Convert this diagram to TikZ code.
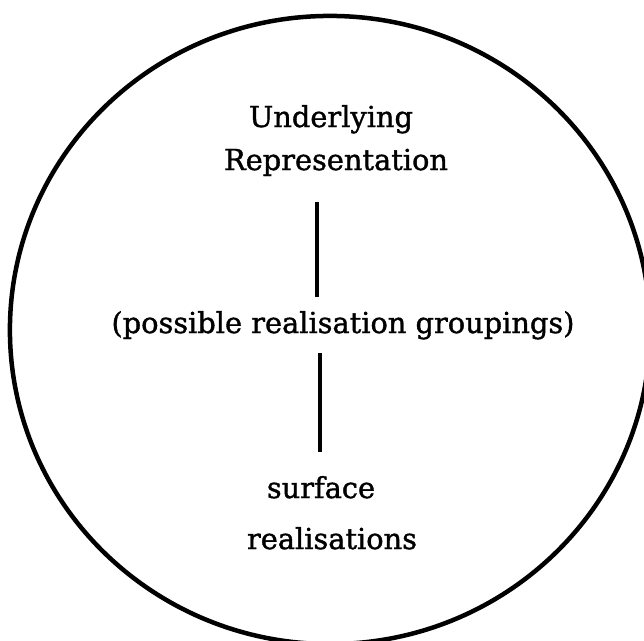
\documentclass[tikz,border=0pt]{standalone}
\usepackage{fontspec}
\setmainfont{DejaVu Serif}
\newfontfamily\labelfont[FakeBold=1.3]{DejaVu Serif}
\usepackage{tikz}

\begin{document}
\begin{tikzpicture}[x=0.025cm, y=-0.025cm,
        label/.style={anchor=base, inner sep=0pt, font=\labelfont\fontsize{20.5}{24}\selectfont},
        link/.style={line width=2.6pt}]
        \useasboundingbox (0,0) rectangle (644,640);

        % Outer circle
        \draw[line width=3.2pt] (330,330) ellipse [x radius=8cm, y radius=7.85cm];

        % Define nodes
        \node[label] (und) at (331,127) {Underlying};
        \node[label] (rep) at (336,170) {Representation};
        \node[label] (grp) at (343,333) {(possible realisation groupings)};
        \node[label] (surf) at (321,498) {surface};
        \node[label] (real) at (332,549) {realisations};

        % Columns of the two lines
        \coordinate (colA) at (317,0);
        \coordinate (colB) at (320,0);

        % Connect the levels
        \draw[link, shorten <=0.8cm, shorten >=0.9cm] (rep.base -| colA) -- (grp.base -| colA);
        \draw[link, shorten <=0.5cm, shorten >=1.15cm] (grp.base -| colB) -- (surf.base -| colB);
    \end{tikzpicture}
\end{document}
